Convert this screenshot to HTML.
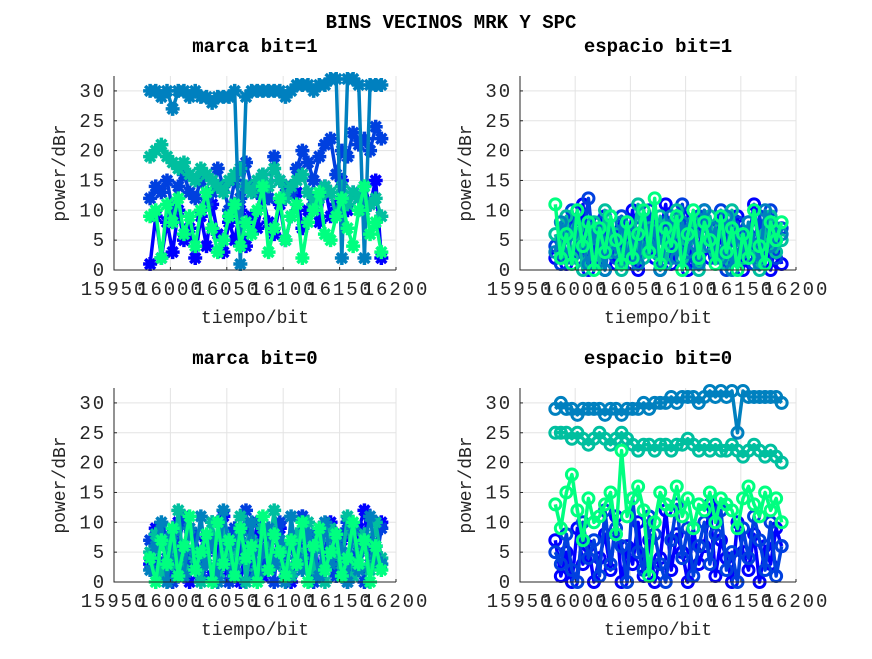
<!DOCTYPE html>
<html><head><meta charset="utf-8"><style>
body{margin:0;background:#fff;}
svg text{font-family:"Liberation Mono","DejaVu Sans Mono",monospace;}
</style></head><body>
<svg id="fig" width="872" height="654" xmlns="http://www.w3.org/2000/svg">
<rect width="872" height="654" fill="#fff"/>
<text x="451" y="28" text-anchor="middle" font-size="19" font-weight="bold">BINS VECINOS MRK Y SPC</text>
</svg>
<script>
const xStart = 15982, xStep = 5;
const xTicks = [15950, 16000, 16050, 16100, 16150, 16200];
const yTicks = [0, 5, 10, 15, 20, 25, 30];
const colors = ["#0000ff", "#0040df", "#00bf9f", "#0080bf", "#00ff80"];
const titles = ["marca bit=1", "espacio bit=1", "marca bit=0", "espacio bit=0"];
// marca bit=1
const m1s0 = [1,9,2,8,3,10,5,7,2,9,4,11,6,3,8,5,10,4,9,7,12,8,6,11,5,9,13,7,10,12,8,14,9,11,15,10,13,12,14,11,15,2];
const m1s1 = [12,14,13,15,10,14,16,13,12,15,11,13,17,14,10,15,12,18,14,13,16,12,19,15,14,13,17,20,18,15,19,21,22,16,20,19,23,21,22,20,24,22];
const m1s2 = [19,20,21,19,18,17,18,16,15,17,16,15,14,13,15,16,17,14,13,15,16,14,17,15,12,14,15,16,13,11,12,14,13,9,14,11,13,12,10,11,12,9];
const m1s3 = [30,30,29,30,27,30,30,29,30,29,29,28,29,29,29,30,1,29,30,30,30,30,30,30,29,30,31,31,31,30,31,31,32,32,2,32,32,31,2,31,31,31];
const m1s4 = [9,10,2,11,8,12,6,9,4,10,13,7,3,5,9,11,4,8,6,10,14,3,7,12,5,9,11,2,8,10,13,6,5,9,12,7,4,10,14,6,8,3];
// espacio bit=1
const e1s0 = [2,5,1,8,3,11,0,6,2,9,4,1,7,3,10,0,5,8,2,6,11,1,4,9,0,7,3,10,2,5,8,1,6,9,0,4,11,2,7,0,5,1];
const e1s1 = [4,1,7,10,2,5,12,3,8,0,6,2,9,4,1,7,3,10,5,0,8,2,6,11,3,1,9,4,7,2,10,0,5,8,3,6,1,9,4,10,2,7];
const e1s2 = [6,3,9,2,7,0,5,8,1,10,3,6,0,8,4,11,2,7,3,9,1,6,10,2,5,8,0,4,9,3,7,1,10,5,2,8,4,0,6,9,3,5];
const e1s3 = [3,8,2,6,10,4,1,7,5,0,9,3,8,2,6,1,10,4,7,0,5,9,2,8,3,6,1,10,4,7,2,9,0,6,3,8,5,1,10,4,7,6];
const e1s4 = [11,2,6,1,10,4,8,0,7,3,9,5,1,8,2,6,10,3,12,1,7,4,9,0,6,10,2,8,5,1,9,3,7,0,6,2,10,4,1,8,5,8];
// marca bit=0
const m0s0 = [3,9,1,6,2,10,4,0,8,3,7,1,5,11,2,8,0,6,3,10,1,7,4,9,2,0,6,11,3,8,1,5,10,2,7,0,4,9,12,3,6,10];
const m0s1 = [7,2,9,4,0,6,11,3,8,1,5,10,2,7,0,9,4,12,1,6,3,8,0,10,5,2,7,11,4,0,9,3,6,1,8,10,2,5,0,7,3,9];
const m0s2 = [5,8,1,7,3,12,2,9,4,0,6,10,1,8,5,3,11,0,7,2,9,5,12,3,6,1,8,4,10,2,7,0,9,5,3,11,1,6,8,2,10,4];
const m0s3 = [2,6,10,0,8,4,1,9,5,11,3,7,0,12,6,2,8,4,10,1,5,9,3,7,0,11,4,2,8,6,1,10,3,7,5,0,9,2,6,11,4,3];
const m0s4 = [4,0,7,3,9,1,6,11,2,5,8,0,10,3,7,1,9,4,6,0,11,2,8,5,1,7,3,10,0,6,9,2,5,8,1,4,10,3,7,0,6,2];
// espacio bit=0
const e0s0 = [7,1,5,0,9,3,6,0,4,8,2,11,0,6,3,10,1,7,0,4,12,2,8,5,0,9,3,6,13,1,7,4,0,10,5,2,8,0,6,3,9,6];
const e0s1 = [5,3,8,2,0,10,4,7,1,12,3,9,6,0,14,5,2,11,8,3,0,7,13,4,9,1,6,10,3,8,12,2,5,0,9,4,11,7,2,10,1,6];
const e0s2 = [25,25,25,24,25,24,23,24,25,24,23,24,25,24,23,22,23,23,22,23,23,22,23,23,24,23,22,23,22,23,22,22,23,22,21,22,23,22,21,22,21,20];
const e0s3 = [29,30,29,29,28,29,29,29,29,28,29,29,28,29,29,29,30,29,30,30,30,31,30,31,31,31,30,31,32,31,32,31,32,25,32,31,31,31,31,31,31,30];
const e0s4 = [13,9,15,18,12,7,14,10,11,13,15,8,22,11,14,16,12,1,10,15,13,12,16,11,14,9,13,12,15,10,14,13,12,9,14,16,13,11,15,12,14,10];
const plotData = [[m1s0,m1s1,m1s2,m1s3,m1s4],[e1s0,e1s1,e1s2,e1s3,e1s4],[m0s0,m0s1,m0s2,m0s3,m0s4],[e0s0,e0s1,e0s2,e0s3,e0s4]];
const markerTypes = ["star","circle","star","circle"];
const names = ["marca-bit1","espacio-bit1","marca-bit0","espacio-bit0"];

const NS = "http://www.w3.org/2000/svg";
const svg = document.getElementById("fig");
function mk(tag, attrs, parent){const e=document.createElementNS(NS,tag);for(const k in attrs)e.setAttribute(k,attrs[k]);(parent||svg).appendChild(e);return e;}
const boxes = [[114,76,396,270],[520,76,796,270],[114,388,396,582],[520,388,796,582]];

plotData.forEach((series, p) => {
  const [L,T,R,B] = boxes[p];
  const xs = v => L + (v - 15950) / 250 * (R - L);
  const ys = v => B - v / 32.5 * (B - T);
  const g = mk("g", {});
  
  
  mk("rect",{x:L,y:T,width:R-L,height:B-T,fill:"#fff"},g);
  xTicks.forEach(t=>{mk("line",{x1:xs(t),x2:xs(t),y1:T,y2:B,stroke:"#e3e3e3","stroke-width":1},g);});
  yTicks.forEach(t=>{mk("line",{x1:L,x2:R,y1:ys(t),y2:ys(t),stroke:"#e3e3e3","stroke-width":1},g);});
  series.forEach((arr, s) => {
    const pts = arr.map((v,i)=>[xs(xStart+i*xStep), ys(v)]);
    const pl = mk("polyline",{points:pts.map(q=>q.join(",")).join(" "),fill:"none",stroke:colors[s],"stroke-width":3.5,"stroke-linejoin":"round"},g);
    
    
    pts.forEach(([x,y])=>{
      let m;
      if(markerTypes[p]==="circle"){
        m = mk("circle",{cx:x,cy:y,r:5.5,fill:"none",stroke:colors[s],"stroke-width":3},g);
      } else {
        const r=7; let d="";
        for(let k=0;k<4;k++){const a=k*Math.PI/4;d+=`M${x-r*Math.cos(a)},${y-r*Math.sin(a)}L${x+r*Math.cos(a)},${y+r*Math.sin(a)}`;}
        m = mk("path",{d:d,stroke:colors[s],"stroke-width":3.5},g);
      }
      
      
    });
  });
  mk("path",{d:`M${L},${T}V${B}H${R}`,fill:"none",stroke:"#262626","stroke-width":1},g);
  xTicks.forEach(t=>{
    mk("line",{x1:xs(t),x2:xs(t),y1:B,y2:B-3,stroke:"#262626"},g);
    const tx = mk("text",{x:xs(t),y:B+25,"text-anchor":"middle","font-size":19,"letter-spacing":1.9,fill:"#262626"},g);
    tx.textContent = t;
    
    
  });
  yTicks.forEach(t=>{
    mk("line",{x1:L,x2:L+3,y1:ys(t),y2:ys(t),stroke:"#262626"},g);
    const tx = mk("text",{x:L-8,y:ys(t)+6,"text-anchor":"end","font-size":19,"letter-spacing":1.9,fill:"#262626"},g);
    tx.textContent = t;
    
    
  });
  const xl = mk("text",{x:(L+R)/2,y:B+53,"text-anchor":"middle","font-size":18,fill:"#262626"},g);
  xl.textContent = "tiempo/bit";
  
  
  const yl = mk("text",{x:0,y:0,"text-anchor":"middle","font-size":18,fill:"#262626",transform:`translate(${L-49},${(T+B)/2}) rotate(-90)`},g);
  yl.textContent = "power/dBr";
  
  
  const tt = mk("text",{x:(L+R)/2,y:T-24,"text-anchor":"middle","font-size":19,"font-weight":"bold",fill:"#000"},g);
  tt.textContent = titles[p];
  
  
});
</script>
</body></html>
